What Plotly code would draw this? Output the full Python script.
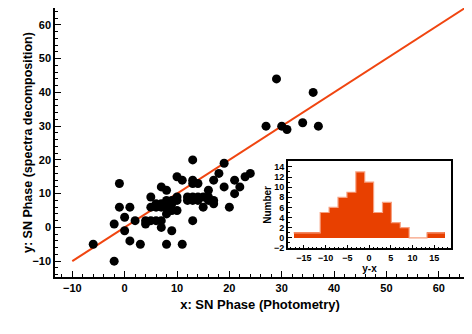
import plotly.graph_objects as go

# scatter: SN phase from photometry (x) vs spectra decomposition (y)
phase_phot = [-6, -2, -2, -1, -1, 0, 0, 1, 1, 2, 3, 4, 4, 5, 5, 5, 6, 6, 7, 7,
              7, 7, 8, 8, 8, 8, 8, 9, 9, 9, 10, 10, 10, 10, 11, 11, 12, 13, 13, 13,
              13, 13, 13, 14, 14, 15, 15, 16, 16, 17, 17, 17, 18, 19, 19, 20, 21, 21, 22, 23,
              24, 27, 29, 30, 31, 34, 36, 37, 6, 7, 9, 12, 14, 16]
phase_spec = [-5, -10, 1, 13, 6, 3, -1, 6, -4, 2, -5, 2, 1, 2, 9, 6, 7, 6, 7, 12,
              2, 0, 11, 8, 6, 4, -5, 7, 5, -1, 15, 9, 8, 5, 14, -5, 9, 14, 13, 9,
              8, 2, 20, 13, 9, 9, 6, 11, 9, 14, 8, 7, 16, 12, 19, 6, 14, 10, 12, 15,
              16, 30, 44, 30, 29, 31, 40, 30, 2, 6, 8, 8, 8, 8]

# one-to-one line
line_x = [-10, 65]

# inset histogram of y-x
bin_start = -17.4
bin_width = 2.05
counts = [1, 1, 1, 5, 6, 8, 9, 13, 11, 5, 7, 3, 2, 0, 0, 1, 1]

edges = [bin_start + i * bin_width for i in range(len(counts) + 1)]
centers = [e + bin_width / 2 for e in edges[:-1]]

font = dict(family="Liberation Sans, Arial, sans-serif", color="black")

fig = go.Figure()
fig.add_trace(go.Scatter(x=line_x, y=line_x, mode="lines",
                         line=dict(color="#F04510", width=2), showlegend=False))
fig.add_trace(go.Scatter(x=phase_phot, y=phase_spec, mode="markers",
                         marker=dict(color="black", size=9), showlegend=False))
fig.add_trace(go.Bar(x=centers, y=counts, width=bin_width,
                     marker=dict(color="#E84000", line=dict(width=0)),
                     xaxis="x2", yaxis="y2", showlegend=False))
fig.add_trace(go.Scatter(x=edges, y=counts + [counts[-1]], mode="lines",
                         line=dict(color="#F7A080", width=1.2, shape="hv"),
                         xaxis="x2", yaxis="y2", showlegend=False))

main_ax = dict(showline=True, linecolor="black", linewidth=1.5, mirror=True,
               ticks="inside", ticklen=6, tickwidth=1.3, tickcolor="black",
               minor=dict(ticks="inside", ticklen=3, tickcolor="black", dtick=2),
               showgrid=False, zeroline=False, automargin=False,
               tickfont=dict(size=11, weight="bold", **font))
inset_ax = dict(showline=True, linecolor="black", linewidth=1.5, mirror=True,
                ticks="inside", ticklen=4, tickwidth=1, tickcolor="black",
                showgrid=False, zeroline=False, automargin=False,
                tickfont=dict(size=9, weight="bold", **font))

# the page body adds an 8px offset, so the figure is sized to fit inside it
fig.update_layout(
    width=464, height=326,
    margin=dict(l=47, r=7, t=0, b=57),
    plot_bgcolor="white", paper_bgcolor="white",
    bargap=0,
    xaxis=dict(range=[-13.3, 65], dtick=10, domain=[0, 1],
               title=dict(text="x: SN Phase (Photometry)", standoff=7,
                          font=dict(size=13, weight="bold", **font)),
               **main_ax),
    yaxis=dict(range=[-14.7, 65], dtick=10, domain=[0, 1], **main_ax),
    xaxis2=dict(range=[-18.7, 18.9], dtick=5, anchor="y2", domain=[0.568, 0.966],
                minor=dict(ticks="inside", ticklen=2, tickcolor="black", dtick=1),
                title=dict(text="y-x", standoff=1,
                           font=dict(size=10, weight="bold", **font)),
                **inset_ax),
    yaxis2=dict(range=[-2.1, 15.1], dtick=2, anchor="x2", domain=[0.106, 0.430],
                minor=dict(ticks="inside", ticklen=2, tickcolor="black", dtick=1),
                title=dict(text="Number", standoff=1,
                           font=dict(size=10, weight="bold", **font)),
                **inset_ax),
)
# y title placed by hand, a little closer to the tick labels
fig.add_annotation(text="y: SN Phase (spectra decomposition)", textangle=-90,
                   xref="paper", yref="paper", x=-0.067, y=0.5,
                   xanchor="center", yanchor="middle", showarrow=False,
                   font=dict(size=12.5, weight="bold", **font))

fig.write_html("out.html")
